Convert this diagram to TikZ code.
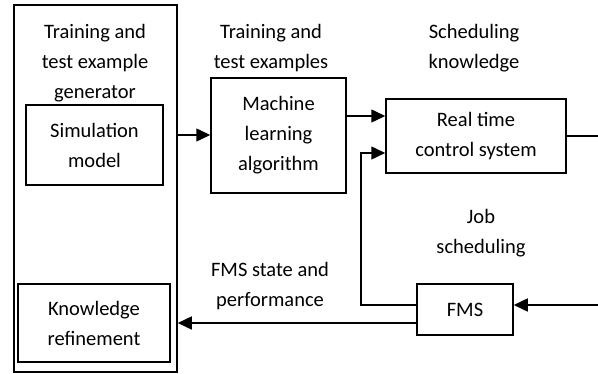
\documentclass[tikz,border=0pt]{standalone}
\usepackage{fontspec}
\setmainfont{Carlito}
\usetikzlibrary{arrows.meta,calc}
\begin{document}
\begin{tikzpicture}[x=1pt,y=-1pt,
  box/.style={draw,line width=1.5pt,inner sep=0pt,align=center},
  lbl/.style={align=center,inner sep=0pt,font=\fontsize{20.5}{30}\selectfont},
  conn/.style={line width=1.5pt},
  arr/.style={line width=1.5pt,-{Triangle[length=14pt,width=13pt]}},
  font=\fontsize{20.5}{30}\selectfont]
\useasboundingbox (0,0) rectangle (598,374);
% boxes
\node[box,minimum width=163pt,minimum height=367pt] (outer) at (95.5,188.5) {};
\node[box,lbl,minimum width=137pt,minimum height=80pt] (sim) at (94.5,145) {Simulation\\model};
\node[box,lbl,minimum width=152pt,minimum height=78pt] (kr) at (94,323) {Knowledge\\refinement};
\node[box,lbl,minimum width=135pt,minimum height=115pt] (ml) at (278.5,135.5) {Machine\\learning\\algorithm};
\node[box,lbl,minimum width=180pt,minimum height=74pt] (rt) at (476,136) {Real time\\control system};
\node[box,lbl,minimum width=96pt,minimum height=51pt] (fms) at (465,309.5) {FMS};
% labels
\node[lbl] (l1) at (95,63) {Training and\\test example\\generator};
\node[lbl] (l2) at (271,48) {Training and\\test examples};
\node[lbl] (l3) at (474,48.5) {Scheduling\\knowledge};
\node[lbl] (l4) at (481,233) {Job\\scheduling};
\node[lbl] (l5) at (270,286) {FMS state and\\performance};
% helper coordinates
\coordinate (rtout) at (598,136);
\coordinate (fmsin) at (598,305);
\coordinate (bend) at (361,305);
% connectors
\draw[arr] (outer.east |- 0,135) -- (ml.west |- 0,135);
\draw[arr] (ml.east |- 0,116) -- (rt.west |- 0,116);
\draw[conn] (rt.east) -- (rtout);
\draw[arr] (fmsin) -- (fms.east |- fmsin);
\draw[arr] (fms.west |- bend) -- (bend) -- (bend |- 0,153) -- (rt.west |- 0,153);
\draw[arr] (fms.west |- 0,323) -- (outer.east |- 0,323);
\end{tikzpicture}
\end{document}
